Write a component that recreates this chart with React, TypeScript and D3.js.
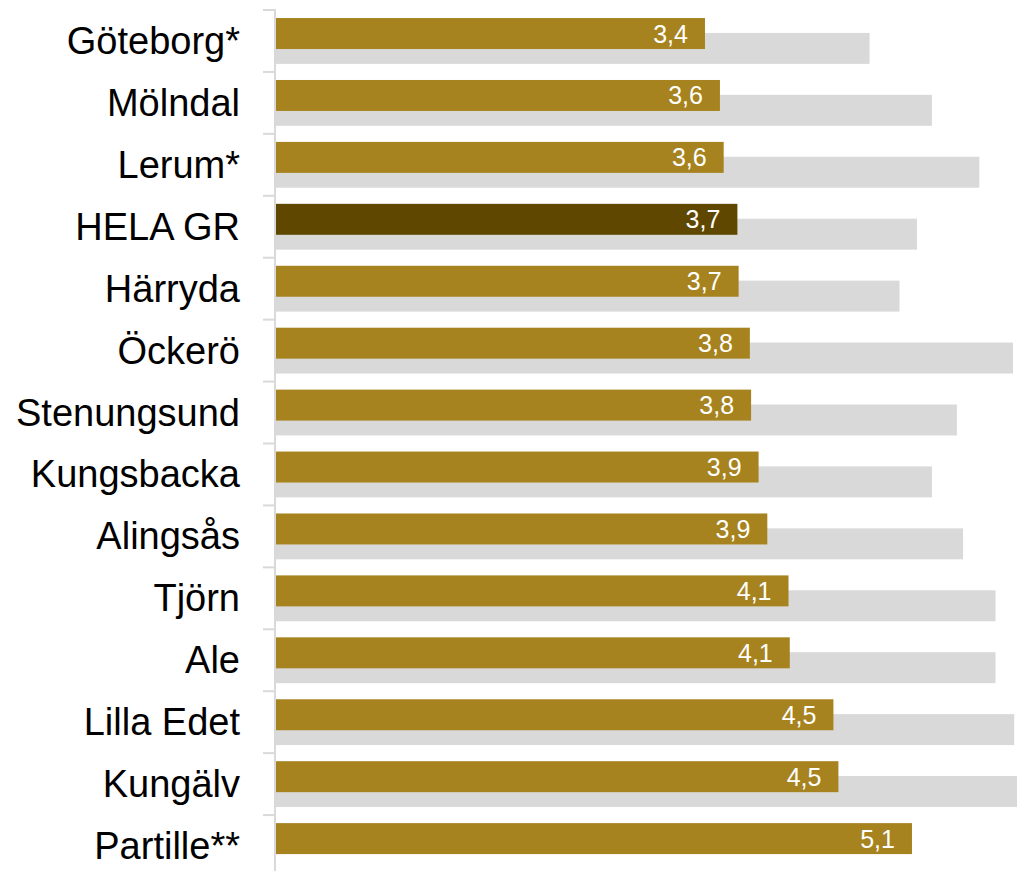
import React from "react";
import { scaleBand, scaleLinear } from "d3";

const categories = [
  "Göteborg*",
  "Mölndal",
  "Lerum*",
  "HELA GR",
  "Härryda",
  "Öckerö",
  "Stenungsund",
  "Kungsbacka",
  "Alingsås",
  "Tjörn",
  "Ale",
  "Lilla Edet",
  "Kungälv",
  "Partille**",
];

// front (gold) series
const current = [
  3.44, 3.56, 3.59, 3.7, 3.71, 3.8, 3.81, 3.87, 3.94, 4.11, 4.12, 4.47, 4.51, 5.1,
];

// background (grey) series, Partille has none
const previous = [
  4.76, 5.26, 5.64, 5.14, 5.0, 5.91, 5.46, 5.26, 5.51, 5.77, 5.77, 5.92, 6.05, null,
];

const highlight = "HELA GR";

const width = 1017;
const height = 871;
const axisX = 276;

function App() {
  const x = scaleLinear().domain([0, 6]).range([axisX, axisX + 6 * 124.7]);
  const y = scaleBand().domain(categories).range([10, 877]);
  const bw = y.bandwidth();
  const barH = bw * 0.5;
  const goldOff = bw * 0.13;
  const grayOff = goldOff + barH * 0.48;

  const fmt = (v: number) => v.toFixed(1).replace(".", ",");
  const bounds = categories.map((c) => y(c) as number).concat([y.range()[1]]);

  return (
    <div style={{ position: "absolute", left: 0, top: 0 }}>
      <svg width={width} height={height} style={{ display: "block" }}>
        <g>
          {categories.map((c, i) => {
            const v = previous[i];
            if (v == null) return null;
            return (
              <rect
                key={"p" + i}
                x={x(0)}
                y={(y(c) as number) + grayOff}
                width={x(v) - x(0)}
                height={barH}
                fill="#D9D9D9"
              />
            );
          })}
        </g>
        <g>
          {categories.map((c, i) => (
            <rect
              key={"c" + i}
              x={x(0)}
              y={(y(c) as number) + goldOff}
              width={x(current[i]) - x(0)}
              height={barH}
              fill={c === highlight ? "#5F4700" : "#A6831E"}
            />
          ))}
        </g>
        <g
          fontFamily="Liberation Sans, Arial, sans-serif"
          fontSize={25}
          fill="#FFFFFF"
          textAnchor="end"
        >
          {categories.map((c, i) => (
            <text
              key={"v" + i}
              x={x(current[i]) - 17}
              y={(y(c) as number) + goldOff + barH / 2 + 9}
            >
              {fmt(current[i])}
            </text>
          ))}
        </g>
        <g stroke="#D9D9D9" strokeWidth={2}>
          <line x1={axisX - 1} x2={axisX - 1} y1={bounds[0] - 1} y2={height} />
          {bounds.map((b, i) => (
            <line key={"t" + i} x1={axisX - 13} x2={axisX} y1={b} y2={b} />
          ))}
        </g>
        <g
          fontFamily="Liberation Sans, Arial, sans-serif"
          fontSize={38}
          fill="#000000"
          textAnchor="end"
        >
          {categories.map((c) => (
            <text key={c} x={240} y={(y(c) as number) + bw / 2 + 13}>
              {c}
            </text>
          ))}
        </g>
      </svg>
    </div>
  );
}

export default App;
